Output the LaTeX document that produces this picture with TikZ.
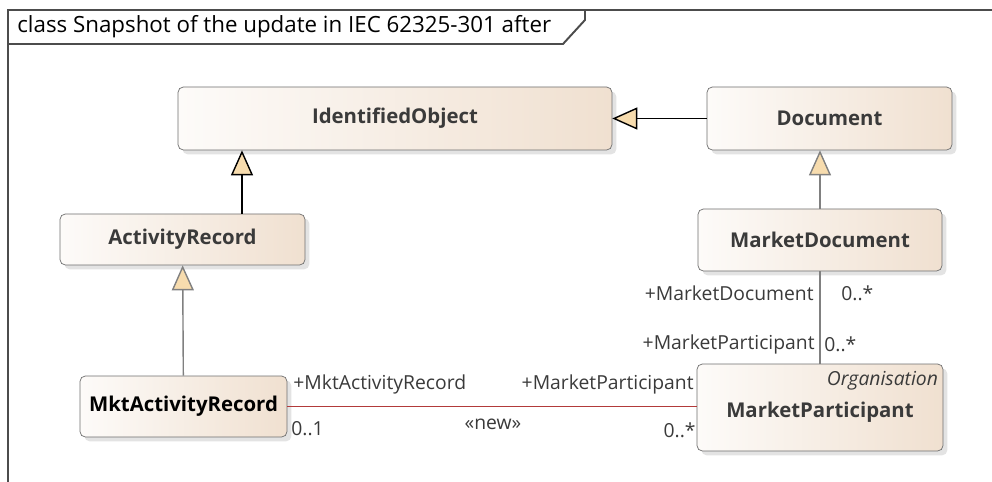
\documentclass[tikz,border=0pt]{standalone}
\usepackage{fontspec}
\setmainfont{Open Sans}
\usepackage{tikz}
\usetikzlibrary{arrows.meta, positioning, shadows}
\definecolor{boxl}{HTML}{FDFBF9}
\definecolor{boxr}{HTML}{F0E0D0}
\definecolor{boxline}{HTML}{6E6E6E}
\definecolor{tipfill}{HTML}{F7DCAE}
\definecolor{relgrey}{HTML}{808080}
\definecolor{newred}{HTML}{B23A3A}
\definecolor{txt}{HTML}{3A3A3A}
\tikzstyle{cls}=[draw=boxline, rounded corners=3pt, left color=boxl, right color=boxr, font=\fontsize{11.6}{13}\selectfont\bfseries, text=txt, drop shadow={opacity=0.22, shadow xshift=2.5pt, shadow yshift=-2.5pt}]
\tikzstyle{gen}=[-{Triangle[length=0.5cm, width=0.44cm, fill=tipfill]}, line width=0.8pt]
\tikzstyle{assoc}=[relgrey, line width=0.8pt]
\tikzstyle{lbl}=[inner sep=0pt, text=txt, font=\fontsize{11}{13}\selectfont]
\tikzset{>=stealth}

\begin{document}
\begin{tikzpicture}[x=0.02cm, y=-0.02cm]
\useasboundingbox (0,0) rectangle (992,482);
% frame and title tab
\draw[line width=1.1pt, black!70] (8,482) -- (8,10) -- (992,10);
\draw[line width=1.1pt, black!70] (8,44) -- (563,44) -- (585,20) -- (585,10);
\node[lbl, anchor=west, text=black, font=\fontsize{12.7}{14}\selectfont] (title) at (17,27) {class Snapshot of the update in IEC 62325-301 after};

\node[cls, minimum width=8.68cm, minimum height=1.26cm] (IdentifiedObject) at (395,118.5) {IdentifiedObject};
\node[cls, minimum width=4.9cm, minimum height=1.26cm] (Document) at (829.5,118.5) {Document};
\node[cls, minimum width=4.9cm, minimum height=1.02cm] (ActivityRecord) at (182.5,239.5) {ActivityRecord};
\node[cls, minimum width=4.88cm, minimum height=1.24cm] (MarketDocument) at (820,240) {MarketDocument};
\node[cls, minimum width=4.14cm, minimum height=1.22cm, text=black] (MktActivityRecord) at (183.5,406.5) {MktActivityRecord};
\node[cls, minimum width=4.92cm, minimum height=1.74cm, text height=0.5cm, text depth=0.08cm] (MarketParticipant) at (820,407.5) {MarketParticipant};
\node[lbl, anchor=north east, font=\fontsize{11}{13}\selectfont\itshape] (stereo) at ([xshift=-0.1cm, yshift=-0.14cm]MarketParticipant.north east) {Organisation};

% generalisations
\draw[gen, black] (Document) -- (IdentifiedObject);
\draw[gen, black] ([xshift=1.19cm]ActivityRecord.north) -- ([xshift=1.19cm]ActivityRecord.north |- IdentifiedObject.south);
\draw[gen, relgrey] (MarketDocument.north) -- (MarketDocument.north |- Document.south);
\draw[gen, relgrey] (MktActivityRecord) -- (ActivityRecord);

% associations
\draw[assoc] (MarketDocument) -- (MarketParticipant);
\draw[assoc, newred] (MktActivityRecord.east) -- (MktActivityRecord.east -| MarketParticipant.west);

\node[lbl, anchor=east] (mdrole) at (814,293) {+MarketDocument};
\node[lbl, anchor=west] (mdmult) at (841,293) {0..*};
\node[lbl, anchor=east] (mprole) at (815,344) {+MarketParticipant};
\node[lbl, anchor=west] (mpmult) at (824,344) {0..*};

\node[lbl, anchor=west] (marole) at (293,384) {+MktActivityRecord};
\node[lbl, anchor=west] (mamult) at (291,429) {0..1};
\node[lbl] (newtag) at (493,424) {«new»};
\node[lbl, anchor=east] (mprole2) at (694,384) {+MarketParticipant};
\node[lbl, anchor=east] (mpmult2) at (696,430) {0..*};
\end{tikzpicture}
\end{document}
